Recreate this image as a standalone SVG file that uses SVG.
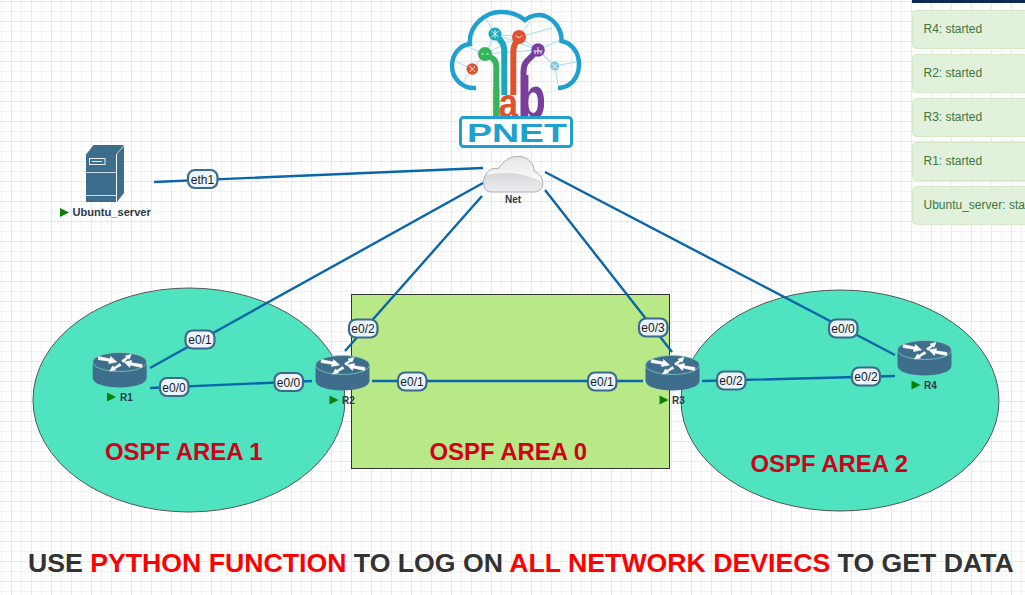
<svg xmlns="http://www.w3.org/2000/svg" width="1025" height="595" viewBox="0 0 1025 595">
<style>
text{font-family:"Liberation Sans",Arial,sans-serif}
.conn{stroke:#0a66ab;stroke-width:2.400;fill:none}
.lb rect{fill:#e9f4fe;stroke:#3b6a8a;stroke-width:2.200}
.lb text{font-size:12px;fill:#1c1c1c;text-anchor:middle}
.nm{font-size:10px;font-weight:bold;fill:#2b3a4a}
.play{fill:#0a7f0a}
.area{fill:#4fe3bf;stroke:#555;stroke-width:1}
.atx{font-size:23.900px;font-weight:bold;fill:#d0021b}
.msg rect{fill:#dff0d8;stroke:#d6e9c6;stroke-width:1;fill-opacity:.92}
.msg text{font-size:12px;fill:#3c763d}
.rail{fill:none;stroke-width:6;stroke-linejoin:round}
.web{stroke:#a5dcef;stroke-width:1;fill:none}
.glyph{stroke:#fff;stroke-width:1;fill:none;opacity:.9}
.ab{font-weight:bold}
.arr{fill:#fff;stroke:#fff;stroke-width:.6;stroke-linejoin:round}
</style>
<defs>
<pattern id="grid" width="20" height="20" patternUnits="userSpaceOnUse" x="1" y="1">
<rect width="20" height="20" fill="#fff"/>
<path d="M0.5 0V20" stroke="#f3f3f3" stroke-width="1"/>
<path d="M0 10.5H20" stroke="#f3f3f3" stroke-width="1"/>
<path d="M10.5 0V20" stroke="#e8e8e8" stroke-width="1"/>
<path d="M0 0.5H20" stroke="#e8e8e8" stroke-width="1"/>
</pattern>
<linearGradient id="cl" x1="0" y1="0" x2="0" y2="1"><stop offset="0" stop-color="#e4e5e7"/><stop offset=".6" stop-color="#f8f8f9"/><stop offset="1" stop-color="#f8f8f9"/></linearGradient>
<linearGradient id="cl2" x1="0" y1="0" x2="0" y2="1"><stop offset="0" stop-color="#d6d7da"/><stop offset="1" stop-color="#f0f0f1"/></linearGradient>
<clipPath id="netclip"><path d="M491 192C484 192 482 183 484.500 177C487 171 492 167 498 169C503 161 511 155.500 520 156.500C529 157.500 534 164 534 171C540 173 544 180 542.500 186C541 190 538 192 534 192Z"/></clipPath>
<g id="router">
<path d="M-27 0V16A27 9.500 0 0 0 27 16V0Z" fill="#3f6e8c"/>
<ellipse rx="27" ry="9.500" fill="#3f6e8c" stroke="#7fcdbb" stroke-width=".8"/>
<path class="arr" d="M-21 -5.500L-9.500 -3L-9 -5.500L-3 0L-11 1.500L-10.500 -.7L-21.500 -2.500Z"/>
<path class="arr" d="M22 5.500L10.500 3L10 5.500L4.500 0L12 -1.500L11.500 .7L22.500 2.500Z"/>
<path class="arr" d="M2 -1.500L7 -4.800L5.500 -6L11.500 -7.500L9.500 -2.800L8.300 -3.800L3.500 .5Z"/>
<path class="arr" d="M0 1.500L-5.500 5.300L-7 4L-10 9L-4 8L-4.800 6.800L1.500 3.500Z"/>
</g>
<path id="tri" d="M0 0L9 4.500L0 9Z" class="play"/>
</defs>
<rect id="background" width="1025" height="595" fill="url(#grid)"/>

<g id="area1"><ellipse class="area" cx="189" cy="400" rx="156" ry="112"/><text class="atx" x="105" y="460">OSPF AREA 1</text></g>
<g id="area0"><rect x="351.500" y="294.500" width="318" height="174" fill="#b8e986" stroke="#333" stroke-width="1"/><text class="atx" x="429.500" y="460">OSPF AREA 0</text></g>
<g id="area2"><ellipse class="area" cx="840" cy="400.500" rx="159" ry="110.500"/><text class="atx" x="750.500" y="472">OSPF AREA 2</text></g>

<g id="logo">
<path class="web" d="M457 62L472 69L485 54L495 34L519 37L538 50L555 66L576 62M485 54L519 37M495 34L486 19M519 37L552 28M538 50L555 66L558 85M472 69L462 84M495 34L538 50M485 54L538 50M468 47L485 54M519 37L530 22M538 50L560 40"/>
<path d="M476 88C462 89 452 78 452 66C452 54 460 45 470 44C468 26 486 11 502 12C512 12 520 16 525 20C531 15 539 14 545 16C555 20 562 30 561.500 41C572 43 579 53 579 64C579 78 570 88 558 88" fill="none" stroke="#1fa0cf" stroke-width="4.500"/>
<text class="ab" x="490.300" y="118" font-size="43" fill="#35b45e">l</text>
<path class="rail" stroke="#35b45e" d="M485 54L492 58Q496.300 60.500 496.300 67V118"/>
<path class="rail" stroke="#1ca9bd" d="M495 34L501 41Q504.300 45 504.300 52V95"/>
<path class="rail" stroke="#e2512d" d="M519 37L515 44Q513.300 47 513.300 52V95"/>
<path class="rail" stroke="#7a3f9d" d="M538 50L527 61Q523.500 65 523.500 72V118"/>
<text class="ab" transform="translate(498.500 118) scale(.82 1)" font-size="43" fill="#e2512d">a</text>
<text class="ab" transform="translate(519.500 118) scale(.72 1)" font-size="60" fill="#7a3f9d">b</text>
<circle cx="485" cy="54" r="7" fill="#35b45e"/><circle cx="495" cy="34" r="6.500" fill="#1ca9bd"/><circle cx="519" cy="37" r="7" fill="#e2512d"/><circle cx="538" cy="50" r="6.800" fill="#7a3f9d"/><circle cx="472.300" cy="69" r="5.800" fill="#e2512d"/><circle cx="554.700" cy="66" r="4.500" fill="#7cc8e8"/>
<path class="glyph" d="M481.500 54H483.500M486.500 54H488.500M491.500 31L498.500 37M498.500 31L491.500 37M495 30V38M515.500 35.500Q519 39.500 522.500 35.500M533.500 51H542.500M535 51V54M538 47V54M541 51V54M469.500 66L475 72M475 66L469.500 72M552.500 64L557 68.500M557 64L552.500 68.500"/>
<rect x="460.500" y="117.500" width="111" height="29" rx="3" fill="#fff" stroke="#1fa0cf" stroke-width="3"/>
<text x="467" y="141.500" font-size="25" font-weight="bold" fill="#1fa0cf" textLength="100" lengthAdjust="spacingAndGlyphs">PNET</text>
</g>

<g id="connectors">
<path class="conn" d="M154 182L483 168M150 368L483 183M345 351L482 196M672 352L545 190M895 355L545 172M150 388L312 381M372 381H643M702 381L895 376"/>
<g class="lb">
<rect x="188" y="170" width="29.500" height="18" rx="7"/><text x="202.500" y="183.500">eth1</text>
<rect x="185.500" y="330.500" width="29" height="18" rx="7"/><text x="200" y="344">e0/1</text>
<rect x="160" y="378" width="28.500" height="18" rx="7"/><text x="174" y="391.500">e0/0</text>
<rect x="274.500" y="373" width="28.500" height="18" rx="7"/><text x="288.500" y="386.500">e0/0</text>
<rect x="349" y="319.500" width="28.500" height="18" rx="7"/><text x="363" y="333">e0/2</text>
<rect x="398" y="372.500" width="28.500" height="18" rx="7"/><text x="412" y="386">e0/1</text>
<rect x="588" y="372.500" width="28.500" height="18" rx="7"/><text x="602" y="386">e0/1</text>
<rect x="639" y="318.500" width="28.500" height="18" rx="7"/><text x="653" y="332">e0/3</text>
<rect x="829" y="319.500" width="28.500" height="18" rx="7"/><text x="843" y="333">e0/0</text>
<rect x="717" y="371.500" width="28.500" height="18" rx="7"/><text x="731" y="385">e0/2</text>
<rect x="852" y="367.500" width="28" height="18" rx="7"/><text x="866" y="381">e0/2</text>
</g>
</g>

<g id="Ubuntu_server">
<path d="M86 154H116V202H86Z" fill="#3d6d8c"/>
<path d="M86.500 154L93.500 145H124L116.500 154Z" fill="#3d6d8c"/>
<path d="M117 154L124 146V193L117 202Z" fill="#3d6d8c"/>
<path d="M86 172.500H116M86 195.500H116" stroke="#cfdde6" stroke-width="1"/>
<rect x="89.500" y="158.500" width="15.500" height="6" fill="none" stroke="#e6eef3" stroke-width="1"/>
<path d="M92 161.500H102" stroke="#e6eef3" stroke-width="1"/>
<use href="#tri" x="60" y="208"/>
<text x="72.500" y="216" font-size="11.100" font-weight="bold" fill="#2b3a4a">Ubuntu_server</text>
</g>
<g id="Net">
<path d="M491 192C484 192 482 183 484.500 177C487 171 492 167 498 169C503 161 511 155.500 520 156.500C529 157.500 534 164 534 171C540 173 544 180 542.500 186C541 190 538 192 534 192Z" fill="url(#cl)"/>
<path clip-path="url(#netclip)" d="M482 176C505 170 528 173 545 184V194H482Z" fill="url(#cl2)"/>
<path d="M491 192C484 192 482 183 484.500 177C487 171 492 167 498 169C503 161 511 155.500 520 156.500C529 157.500 534 164 534 171C540 173 544 180 542.500 186C541 190 538 192 534 192Z" fill="none" stroke="#a9abaf" stroke-width="1"/>
<text x="513" y="203" font-size="10" font-weight="bold" fill="#2b3a4a" text-anchor="middle">Net</text>
</g>
<g id="R1"><use href="#router" x="119.700" y="362"/><use href="#tri" x="107" y="392.500"/><text class="nm" x="120" y="401">R1</text></g>
<g id="R2"><use href="#router" x="342.500" y="365"/><use href="#tri" x="329.500" y="395.500"/><text class="nm" x="342" y="404">R2</text></g>
<g id="R3"><use href="#router" x="672.500" y="365"/><use href="#tri" x="659.500" y="395.500"/><text class="nm" x="672" y="404">R3</text></g>
<g id="R4"><use href="#router" x="924.500" y="350"/><use href="#tri" x="911.500" y="380.500"/><text class="nm" x="924" y="389">R4</text></g>

<g id="notifications">
<rect x="912" y="0" width="113" height="3" fill="#0a2a55"/>
<g class="msg">
<rect x="912.500" y="10.500" width="125" height="38" rx="4"/><text x="923.500" y="33">R4: started</text>
<rect x="912.500" y="54.500" width="125" height="38" rx="4"/><text x="923.500" y="77">R2: started</text>
<rect x="912.500" y="98.500" width="125" height="38" rx="4"/><text x="923.500" y="121">R3: started</text>
<rect x="912.500" y="142.500" width="125" height="38" rx="4"/><text x="923.500" y="165">R1: started</text>
<rect x="912.500" y="186.500" width="125" height="38" rx="4"/><text x="923.500" y="209">Ubuntu_server: sta</text>
</g>
</g>

<text id="caption" x="28" y="572" font-size="26.670" font-weight="bold" fill="#333">USE <tspan fill="#f00">PYTHON FUNCTION</tspan> TO LOG ON <tspan fill="#f00">ALL NETWORK DEVIECS</tspan> TO GET DATA</text>
</svg>
